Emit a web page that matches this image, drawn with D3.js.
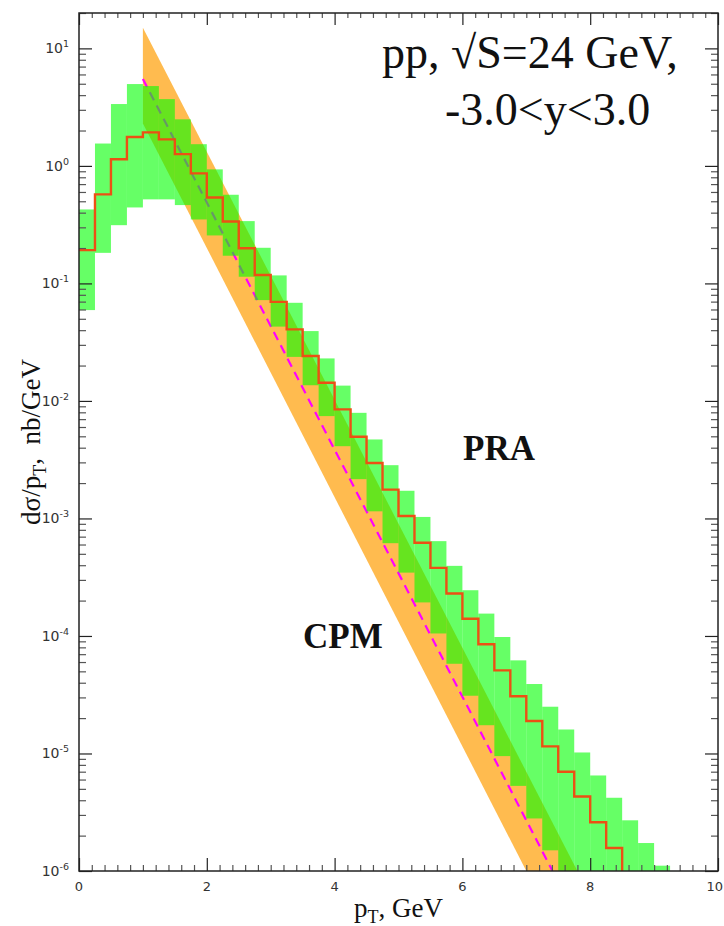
<!DOCTYPE html>
<html><head><meta charset="utf-8">
<script src="https://cdn.jsdelivr.net/npm/d3@7"></script>
<style>body{margin:0;background:#fff}</style>
</head><body><svg id="c" width="724" height="926"></svg>
<script>
// ---------- data ----------
const binLow = [0,0.25,0.5,0.75,1,1.25,1.5,1.75,2,2.25,2.5,2.75,3,3.25,3.5,3.75,4,4.25,4.5,4.75,5,5.25,5.5,5.75,6,6.25,6.5,6.75,7,7.25,7.5,7.75,8,8.25,8.5,8.75,9];
const binWidth = 0.25;
// PRA band (green): upper and lower edge per bin, nb/GeV
const praUpper = [0.426,1.55,3.36,4.97,4.78,3.70,2.49,1.53,0.934,0.568,0.339,0.201,0.117,0.0684,0.0393,0.0230,0.0135,0.00792,0.00470,0.00284,0.00172,0.00103,0.000641,0.000395,0.000245,0.000155,9.8e-5,6.2e-5,3.9e-5,2.5e-5,1.6e-5,1.02e-5,6.5e-6,4.2e-6,2.7e-6,1.73e-6,1.11e-6];
const praLower = [0.0593,0.182,0.313,0.443,0.519,0.519,0.464,0.350,0.256,0.172,0.114,0.0721,0.0429,0.0237,0.0136,0.00743,0.00412,0.00216,0.00115,0.000616,0.000346,0.000193,0.000105,5.8e-5,3.1e-5,1.74e-5,9.5e-6,5.3e-6,2.8e-6,1.5e-6,8e-7,4.5e-7,2.5e-7,1.4e-7,8e-8,4.5e-8,2.5e-8];
// PRA central histogram (red), bins 0..33
const praCentral = [0.192,0.572,1.14,1.76,1.93,1.68,1.26,0.863,0.539,0.336,0.199,0.118,0.0697,0.0406,0.0241,0.0143,0.00847,0.00495,0.00296,0.00176,0.00105,0.000622,0.00038,0.00023,0.00014,8.5e-5,5.1e-5,3.07e-5,1.89e-5,1.15e-5,7.0e-6,4.3e-6,2.6e-6,1.57e-6];
// CPM band (orange) edges and central (dashed) line
const cpmUpperX = [1.0, 7.8],  cpmUpper = [15, 1.0e-6];
const cpmLowerX = [1.0, 7.0],  cpmLower = [2.3, 1.0e-6];
const cpmCentralX = [1.0, 7.41], cpmCentral = [5.5, 1.0e-6];
// axes
const xDomain = [0, 10];
const yDomain = [1e-6, 20];
const xMajor = [0, 2, 4, 6, 8, 10];
const xTickLabels = ["0","2","4","6","8","10"];
const yExponents = [1, 0, -1, -2, -3, -4, -5, -6];

// ---------- layout ----------
const W = 724, H = 926;
const m = {top: 13, right: 6, bottom: 55, left: 79};
const iw = W - m.left - m.right, ih = H - m.top - m.bottom;
const svg = d3.select("#c");
const g = svg.append("g").attr("transform", `translate(${m.left},${m.top})`);
const x = d3.scaleLinear().domain(xDomain).range([0, iw]);
const y = d3.scaleLog().domain(yDomain).range([ih, 0]);

svg.append("defs").append("clipPath").attr("id","clip")
  .append("rect").attr("width", iw).attr("height", ih);
const plot = g.append("g").attr("clip-path","url(#clip)");

// CPM orange band
const bandPts = cpmUpperX.map((v,i)=>[v, cpmUpper[i]])
  .concat(cpmLowerX.map((v,i)=>[v, cpmLower[i]]).reverse());
plot.append("path")
  .attr("d", d3.line().x(d=>x(d[0])).y(d=>y(d[1]))(bandPts) + "Z")
  .attr("fill", "#ffbb4f");

// CPM central dashed line
plot.append("path")
  .attr("d", d3.line().x(d=>x(d[0])).y(d=>y(d[1]))(cpmCentralX.map((v,i)=>[v, cpmCentral[i]])))
  .attr("fill","none").attr("stroke","#ff00ff").attr("stroke-width",2.2)
  .attr("stroke-dasharray","9,6");

// PRA green band
plot.selectAll("rect.pra").data(binLow).join("rect").attr("class","pra")
  .attr("x", d=>x(d)).attr("width", d=>x(d+binWidth)-x(d))
  .attr("y", (d,i)=>y(praUpper[i]))
  .attr("height", (d,i)=>y(praLower[i]) - y(praUpper[i]))
  .attr("fill", "rgb(0,255,0)").attr("fill-opacity", 0.6);

// PRA central red step line
const redPts = praCentral.map((v,i)=>[binLow[i], v]);
const lastEdge = binLow[praCentral.length-1] + binWidth;
redPts.push([lastEdge, praCentral[praCentral.length-1]]);
redPts.push([lastEdge, yDomain[0]]);
plot.append("path")
  .attr("d", d3.line().curve(d3.curveStepAfter).x(d=>x(d[0])).y(d=>y(d[1]))(redPts))
  .attr("fill","none").attr("stroke","#ec5014").attr("stroke-width",2.4);

// ---------- axes ----------
const yMajorVals = yExponents.map(e => Math.pow(10, e));
const yMinorVals = y.ticks(100).filter(v => {
  const l = Math.log10(v); return Math.abs(l - Math.round(l)) > 1e-6;
});
const xMinorVals = d3.range(0, 10.001, 0.2).filter(v => Math.abs(v/2 - Math.round(v/2)) > 1e-6);

function styleAxis(sel, col){
  sel.select(".domain").remove();
  sel.selectAll("text").remove();
  sel.selectAll("line").attr("stroke", col).attr("stroke-width", 1.2);
}
g.append("g").call(d3.axisRight(y).tickValues(yMajorVals).tickSize(13)).call(s=>styleAxis(s,"#222"));
g.append("g").call(d3.axisRight(y).tickValues(yMinorVals).tickSize(7)).call(s=>styleAxis(s,"#555"));
g.append("g").attr("transform",`translate(${iw},0)`).call(d3.axisLeft(y).tickValues(yMajorVals).tickSize(13)).call(s=>styleAxis(s,"#222"));
g.append("g").attr("transform",`translate(${iw},0)`).call(d3.axisLeft(y).tickValues(yMinorVals).tickSize(7)).call(s=>styleAxis(s,"#555"));
g.append("g").attr("transform",`translate(0,${ih})`).call(d3.axisTop(x).tickValues(xMajor).tickSize(13)).call(s=>styleAxis(s,"#222"));
g.append("g").attr("transform",`translate(0,${ih})`).call(d3.axisTop(x).tickValues(xMinorVals).tickSize(6)).call(s=>styleAxis(s,"#555"));
g.append("g").call(d3.axisBottom(x).tickValues(xMajor).tickSize(12)).call(s=>styleAxis(s,"#222"));
g.append("g").call(d3.axisBottom(x).tickValues(xMinorVals).tickSize(5)).call(s=>styleAxis(s,"#555"));

g.append("rect").attr("width", iw).attr("height", ih)
  .attr("fill","none").attr("stroke","#222").attr("stroke-width",1.5);

// tick labels
const tickFont = "'DejaVu Sans', sans-serif";
const nX = xMajor.length;
g.selectAll("text.xl").data(xMajor).join("text").attr("class","xl")
  .attr("x", (d,i)=> i === nX-1 ? x(d) + m.right - 1 : x(d)).attr("y", ih + 20)
  .attr("text-anchor",(d,i)=> i === nX-1 ? "end" : "middle")
  .attr("font-family",tickFont).attr("font-size",13).attr("fill","#333")
  .text((d,i)=>xTickLabels[i]);
const yl = g.selectAll("text.yl").data(yExponents).join("text").attr("class","yl")
  .attr("x", -10).attr("y", d=>y(Math.pow(10,d)) + 5)
  .attr("text-anchor","end").attr("font-family",tickFont).attr("font-size",14).attr("fill","#333");
yl.append("tspan").text("10");
yl.append("tspan").attr("dy",-6).attr("font-size",9.5).text(d=>String(d));

// axis titles
const serif = "'Liberation Serif','Times New Roman',serif";
const xt = svg.append("text").attr("x", m.left + iw/2).attr("y", 917)
  .attr("text-anchor","middle").attr("font-family",serif).attr("font-size",27).attr("fill","#111");
xt.append("tspan").text("p");
xt.append("tspan").attr("dy",6).attr("font-size",18).text("T");
xt.append("tspan").attr("dy",-6).text(", GeV");

const yt = svg.append("text").attr("transform",`translate(40,${m.top + ih/2}) rotate(-90)`)
  .attr("text-anchor","middle").attr("font-family",serif).attr("font-size",27).attr("fill","#111");
yt.append("tspan").text("dσ/p");
yt.append("tspan").attr("dy",6).attr("font-size",18).text("T");
yt.append("tspan").attr("dy",-6).text(",\u00a0 nb/GeV");

// annotations
svg.append("text").attr("x",382).attr("y",68).attr("font-family",serif).attr("font-size",46).attr("fill","#111")
  .text("pp, \u221aS=24 GeV,");
svg.append("text").attr("x",445).attr("y",125).attr("font-family",serif).attr("font-size",46).attr("fill","#111")
  .text("-3.0<y<3.0");
svg.append("text").attr("x",463).attr("y",460).attr("font-family",serif).attr("font-weight","bold").attr("font-size",35).attr("fill","#111")
  .text("PRA");
svg.append("text").attr("x",303).attr("y",648).attr("font-family",serif).attr("font-weight","bold").attr("font-size",35).attr("fill","#111")
  .text("CPM");
</script>
</body></html>
